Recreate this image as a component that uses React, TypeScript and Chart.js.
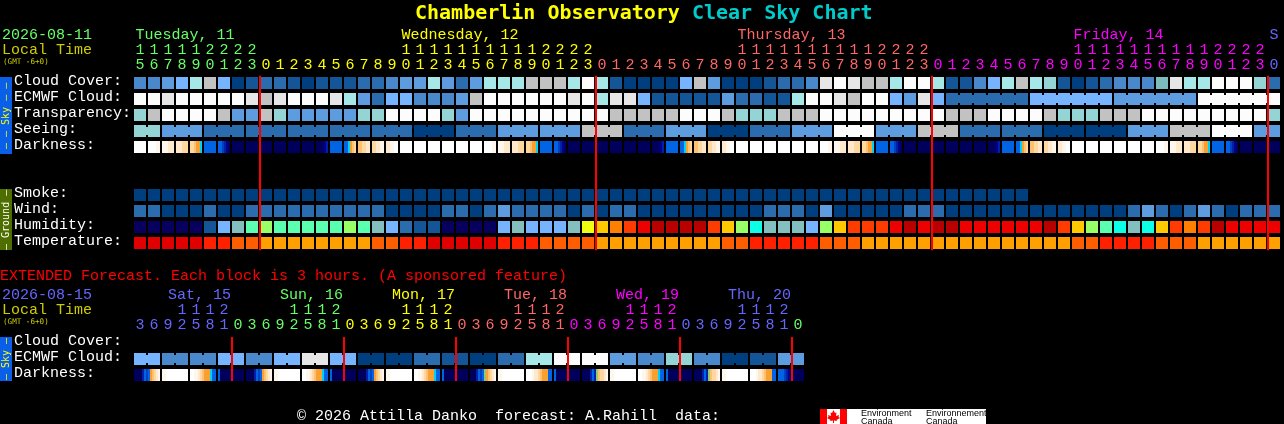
import React, { useEffect, useRef } from "react";
import { Chart, registerables } from "chart.js";

Chart.register(...registerables);

const MONO = '"Liberation Mono", monospace';
const DEJAVU = '"DejaVu Sans Mono", monospace';

// ---------- data: main forecast (one value per hourly column) ----------
const mainHours = [15,16,17,18,19,20,21,22,23,
  0,1,2,3,4,5,6,7,8,9,10,11,12,13,14,15,16,17,18,19,20,21,22,23,
  0,1,2,3,4,5,6,7,8,9,10,11,12,13,14,15,16,17,18,19,20,21,22,23,
  0,1,2,3,4,5,6,7,8,9,10,11,12,13,14,15,16,17,18,19,20,21,22,23,0];
const mainDayColumns = [-0.32, 18.68, 42.68, 66.68, 80.68];
const mainDayNames = ["Tuesday, 11", "Wednesday, 12", "Thursday, 13", "Friday, 14", "S"];
const mainRowNames = ["Cloud Cover:", "ECMWF Cloud:", "Transparency:", "Seeing:", "Darkness:", "", "", "Smoke:", "Wind:", "Humidity:", "Temperature:"];
const mainMidnights = [9, 33, 57, 81];

const cloudCover = [3,3,4,5,6,8,5,0,1,2,2,1,0,1,1,1,2,2,3,4,4,6,4,2,4,6,6,6,8,8,8,6,10,6,1,0,0,0,0,5,8,4,0,0,0,1,2,2,3,9,10,9,8,8,6,10,10,6,1,1,3,5,6,8,6,7,1,0,1,2,3,3,3,11,9,6,6,10,10,10,7,2];
const ecmwfCloud = [10,10,9,10,10,10,10,10,9,8,9,10,10,10,9,6,4,2,5,5,3,3,3,4,8,10,10,10,10,10,10,9,10,6,9,9,5,1,1,1,1,1,4,2,2,1,1,6,10,10,9,8,10,10,5,4,9,5,2,2,2,2,2,2,5,5,5,5,5,5,4,4,4,4,4,4,10,10,10,10,10,10];
const ecmwfMerged = [[58,63],[64,69],[70,75],[76,81]];
const transparency = [7,8,10,10,10,10,8,4,4,8,7,4,4,4,4,4,7,7,10,10,10,10,7,4,10,10,10,10,10,10,10,10,10,10,8,8,8,8,8,10,10,10,8,7,7,7,8,8,8,10,10,10,10,10,10,10,10,10,8,8,8,10,10,10,10,8,7,7,7,8,8,8,10,10,10,10,10,10,10,10,10,7];
const seeing = [7,7,4,4,4,2,2,2,2,2,2,2,2,2,2,2,2,2,2,2,0,0,0,2,2,2,4,4,4,4,4,4,8,8,8,2,2,2,4,4,4,0,0,0,2,2,2,4,4,4,10,10,10,4,4,4,8,8,8,2,2,2,2,2,2,0,0,0,0,0,0,4,4,4,8,8,8,10,10,10,4,4];
const seeingMerged = [[0,1],[2,4],[5,7],[8,10],[11,13],[14,16],[17,19],[20,22],[23,25],[26,28],[29,31],[32,34],[35,37],[38,40],[41,43],[44,46],[47,49],[50,52],[53,55],[56,58],[59,61],[62,64],[65,67],[68,70],[71,73],[74,76],[77,79],[80,81]];
const darkness = [
  "000000","000011","111222","222333","334556","888888","889abc","dddddd","dddddd","dddddd","dddddd","dddddd","dddddd","dddcba","888888","886543","443322","332211","221100","000000","000000","000000","000000","000000",
  "000000","000011","111222","222333","334556","888888","889abc","dddddd","dddddd","dddddd","dddddd","dddddd","dddddd","dddcba","888888","886543","443322","332211","221100","000000","000000","000000","000000","000000",
  "000000","000011","111222","222333","334556","888888","889abc","dddddd","dddddd","dddddd","dddddd","dddddd","dddddd","dddcba","888888","886543","443322","332211","221100","000000","000000","000000","000000","000000",
  "000000","000011","111222","222333","334556","888888","889abc","dddddd","dddddd","dddddd",
];
const smoke = [0,0,0,0,0,0,0,0,0,0,0,0,0,0,0,0,0,0,0,0,0,0,0,0,0,0,0,0,0,0,0,0,0,0,0,0,0,0,0,0,0,0,0,0,0,0,0,0,0,0,0,0,0,0,0,0,0,0,0,0,0,0,0,0];
const wind = [2,2,0,0,0,2,0,0,2,2,2,2,2,2,2,2,2,2,0,0,0,0,2,2,0,2,4,2,2,2,2,0,2,0,2,2,0,0,0,0,0,0,0,0,0,2,2,2,0,4,0,0,0,0,0,2,2,2,0,0,0,0,0,0,0,0,0,0,0,0,0,2,4,2,0,2,4,2,0,2,2,2];
const humidity = [0,0,0,0,0,1,3,4,5,6,5,5,5,5,5,6,5,4,3,2,1,1,0,0,0,0,3,4,3,3,3,4,8,9,10,11,12,13,13,13,13,11,9,6,7,4,4,4,3,6,9,11,11,11,12,13,12,13,13,12,12,12,12,12,12,13,11,9,6,5,7,4,7,9,11,10,11,13,12,12,12,12];
const temperature = [0,0,0,0,0,1,1,2,2,3,3,3,3,3,3,3,3,2,2,1,1,0,0,0,0,0,1,1,1,2,2,2,2,3,3,3,3,3,3,3,3,3,2,2,1,1,1,1,1,2,2,2,3,3,3,3,3,3,3,3,3,3,3,3,3,3,3,2,2,1,1,1,1,2,2,2,3,3,3,3,3,3];

// ---------- data: extended forecast (one value per 3-hour block) ----------
const extHours = [3,6,9,12,15,18,21,
  0,3,6,9,12,15,18,21, 0,3,6,9,12,15,18,21, 0,3,6,9,12,15,18,21,
  0,3,6,9,12,15,18,21, 0,3,6,9,12,15,18,21, 0];
const extDayColumns = [2, 10, 18, 26, 34, 42];
const extDayNames = ["Sat, 15", "Sun, 16", "Mon, 17", "Tue, 18", "Wed, 19", "Thu, 20"];
const extRowNames = ["Cloud Cover:", "ECMWF Cloud:", "Darkness:"];
const extMidnights = [7, 15, 23, 31, 39, 47];
const extCloud = [5,3,3,5,3,5,9,5,0,0,2,1,0,2,6,10,10,4,3,7,3,0,1,4];
const extDarkness = [
  "dddda89854321","1100000000000","0011234555688","8dddddddddddd",
  "dddda89854321","1100000000000","0011234555688","8dddddddddddd",
  "dddda89854321","1100000000000","0011234555688","8dddddddddddd",
  "ddda898g54321","1100000000000","0001223455588","8dddddddddddd",
  "dddda8ag43321","1100000000000","0011234555688","8dddddddddddd",
  "dddda8ag43321","1100000000000","0001223455588","8889abddddddd",
];

// ---------- colour scales ----------
const skyScale = ["#003F7F","#135597","#2A6CAE","#4A88CC","#5E9CE0","#76B4FF","#A6E8E8","#94D4D4","#C2C2C2","#E6E6E6","#FCFCFC","#7BBCBC"];
const humidityScale = ["#08005F","#135597","#2A6CAE","#76B4FF","#84BFBF","#5AFFAF","#99FF66","#0DFFE6","#EEFF11","#FFC800","#FF8000","#FF3C00","#EC0000","#B80000"];
const temperatureScale = ["#E00000","#FF2000","#FF5E00","#FFA000"];
const darkScale: Record<string, string> = {
  "0":"#FFFFFF","1":"#FFF6EC","2":"#FFE8CC","3":"#FFD8A0","4":"#FFC070","5":"#F8A030","6":"#00D0FF","7":"#0078F0","8":"#0064E4",
  "9":"#0040C8",a:"#0020A8",b:"#000088",c:"#000068",d:"#00005C",g:"#90C878",
};
const mainDayColors = ["#66FF66","#FFFF00","#FF6666","#FF00FF","#6666FF"];
const extDayColors = ["#6666FF","#66FF66","#FFFF00","#FF6666","#FF00FF","#6666FF","#66FF66"];

// ---------- dataset builders ----------
const CELL_HALF = 0.375;
const NECK_HALF = 0.25;
const base = { type: "bar", xAxisID: "x", yAxisID: "y", grouped: false, borderWidth: 0, inflateAmount: 0, borderSkipped: false };

function cells(row: number, values: number[], scale: string[]) {
  return {
    ...base,
    barThickness: 12,
    data: values.map((_, i) => ({ x: i, y: [row - CELL_HALF, row + CELL_HALF] })),
    backgroundColor: values.map((v) => scale[v]),
  };
}
function necks(row: number, values: number[], scale: string[], merged: number[][]) {
  const cols: number[] = [];
  merged.forEach(([a, b]) => { for (let c = a; c < b; c++) cols.push(c); });
  return {
    ...base,
    barThickness: 2,
    data: cols.map((c) => ({ x: c + 0.5, y: [row - NECK_HALF, row + NECK_HALF] })),
    backgroundColor: cols.map((c) => scale[values[c]]),
  };
}
function gradientCells(row: number, samples: string[], thickness: number, shift: number, stride: number) {
  return {
    ...base,
    barThickness: thickness,
    data: samples.map((_, i) => ({ x: i * stride + shift, y: [row - CELL_HALF, row + CELL_HALF] })),
    backgroundColor: (ctx: any) => {
      const chart = ctx.chart;
      const raw = ctx.raw;
      if (!raw || !chart.chartArea) return "#000";
      const cx = chart.scales.x.getPixelForValue(raw.x);
      if (!Number.isFinite(cx)) return "#000";
      const g = chart.ctx.createLinearGradient(cx - thickness / 2, 0, cx + thickness / 2, 0);
      const s = samples[ctx.dataIndex];
      for (let k = 0; k < s.length; k++) {
        g.addColorStop(k / s.length, darkScale[s[k]]);
        g.addColorStop((k + 1) / s.length, darkScale[s[k]]);
      }
      return g;
    },
  };
}
function redLines(cols: number[], top: number, bottom: number) {
  return {
    ...base,
    order: -1,
    barThickness: 2,
    data: cols.map((c) => ({ x: c - 3 / 7, y: [top, bottom] })),
    backgroundColor: "#FF0000",
  };
}

// ---------- chart options ----------
function tickParts(h: number): string[] {
  const s = String(h);
  return s.length === 2 ? [s[0], s[1]] : [" ", s];
}
function dayIndexes(hours: number[]) {
  let d = 0;
  return hours.map((h, i) => { if (i > 0 && h === 0) d += 1; return d; });
}
function makeOptions(p: {
  hours: number[]; dayColors: string[]; dayCols: number[]; dayNames: string[]; rowNames: string[];
  padTop: number; padBottom: number; padRight: number; dayColorOf: number[];
}) {
  const font = { family: MONO, size: 15, lineHeight: 1 };
  const n = p.hours.length;
  const dayIdx = dayIndexes(p.hours);
  const noGrid = { display: false, drawTicks: false, tickLength: 0 };
  return {
    responsive: false,
    animation: false,
    devicePixelRatio: 1,
    events: [],
    layout: { padding: { left: 14, right: p.padRight, top: p.padTop, bottom: p.padBottom } },
    plugins: { legend: { display: false }, title: { display: false }, tooltip: { enabled: false } },
    scales: {
      x: {
        type: "linear", position: "top", min: -0.5, max: n - 0.5, weight: 0, offset: false,
        grid: noGrid, border: { display: false },
        afterBuildTicks: (s: any) => { s.ticks = p.hours.map((_, i) => ({ value: i })); },
        afterFit: (s: any) => { s.height = 32; s.paddingLeft = 0; s.paddingRight = 0; },
        ticks: {
          autoSkip: false, maxRotation: 0, minRotation: 0, padding: 2, font,
          callback: (v: number) => tickParts(p.hours[v]),
          color: (c: any) => p.dayColors[dayIdx[c.index] ?? 0],
        },
      },
      x2: {
        type: "linear", position: "top", min: -0.5, max: n - 0.5, weight: 1, offset: false,
        grid: noGrid, border: { display: false },
        afterBuildTicks: (s: any) => { s.ticks = p.dayCols.map((c) => ({ value: c })); },
        afterFit: (s: any) => { s.height = 15; s.paddingLeft = 0; s.paddingRight = 0; },
        ticks: {
          autoSkip: false, maxRotation: 0, minRotation: 0, padding: 0, align: "start", font,
          callback: (_: number, i: number) => p.dayNames[i],
          color: (c: any) => p.dayColors[p.dayColorOf[c.index] ?? 0],
        },
      },
      y: {
        type: "linear", reverse: true, min: -0.5, max: p.rowNames.length - 0.5,
        grid: noGrid, border: { display: false },
        // row labels sit a little above their row's centre
        afterBuildTicks: (s: any) => { s.ticks = p.rowNames.map((_, i) => ({ value: i - 0.125 })); },
        afterFit: (s: any) => { s.width = 119; },
        ticks: {
          autoSkip: false, crossAlign: "far", padding: 2, color: "#FFFFFF", font,
          callback: (v: number) => p.rowNames[Math.round(v + 0.125)],
        },
      },
    },
  };
}

const mainDatasets = () => [
  redLines(mainMidnights, -0.45, 10.45),
  cells(0, cloudCover, skyScale),
  cells(1, ecmwfCloud, skyScale),
  necks(1, ecmwfCloud, skyScale, ecmwfMerged),
  cells(2, transparency, skyScale),
  cells(3, seeing, skyScale),
  necks(3, seeing, skyScale, seeingMerged),
  gradientCells(4, darkness, 12, 0, 1),
  cells(7, smoke, skyScale),
  cells(8, wind, skyScale),
  cells(9, humidity, humidityScale),
  cells(10, temperature, temperatureScale),
];
const extCloudColumns = extCloud.flatMap((v) => [v, v]);
const extCloudMerged = extCloud.map((_, k) => [k * 2, k * 2 + 1]);
const extDatasets = () => [
  redLines(extMidnights, -0.375, 2.375),
  cells(1, extCloudColumns, skyScale),
  necks(1, extCloudColumns, skyScale, extCloudMerged),
  gradientCells(2, extDarkness, 26, 0.5, 2),
];

function Panel(props: { top: number; height: number; datasets: any[]; options: any }) {
  const ref = useRef<HTMLCanvasElement | null>(null);
  useEffect(() => {
    const chart = new Chart(ref.current as HTMLCanvasElement, {
      type: "bar",
      data: { datasets: props.datasets },
      options: props.options,
    } as any);
    return () => chart.destroy();
  }, []);
  return (
    <canvas ref={ref} width={1284} height={props.height}
      style={{ position: "absolute", left: 0, top: props.top, width: 1284, height: props.height, display: "block" }} />
  );
}

function Txt(props: { x: number; y: number; size?: number; color: string; font?: string; children: React.ReactNode }) {
  const size = props.size ?? 15;
  return (
    <div style={{ position: "absolute", left: props.x, top: props.y, fontFamily: props.font ?? MONO, fontSize: size, lineHeight: "16px",
      color: props.color, whiteSpace: "pre" }}>{props.children}</div>
  );
}

function Band(props: { top: number; height: number; bg: string; color: string; text: string }) {
  return (
    <div style={{ position: "absolute", left: 0, top: props.top, width: 12, height: props.height, background: props.bg, color: props.color,
      fontFamily: DEJAVU, fontSize: 10, lineHeight: "12px", writingMode: "vertical-rl", transform: "rotate(180deg)", textAlign: "center", whiteSpace: "pre" }}>
      {props.text}
    </div>
  );
}

export default function App() {
  return (
    <div style={{ position: "fixed", left: 0, top: 0, width: 1284, height: 424, background: "#000", overflow: "hidden" }}>
      <Panel top={0} height={262} datasets={mainDatasets()} options={makeOptions({
        hours: mainHours, dayColors: mainDayColors, dayCols: mainDayColumns, dayNames: mainDayNames, rowNames: mainRowNames,
        padTop: 28, padBottom: 11, padRight: 3, dayColorOf: [0, 1, 2, 3, 4],
      })} />
      <Panel top={262} height={162} datasets={extDatasets()} options={makeOptions({
        hours: extHours, dayColors: extDayColors, dayCols: extDayColumns, dayNames: extDayNames, rowNames: extRowNames,
        padTop: 26, padBottom: 41, padRight: 479, dayColorOf: [0, 1, 2, 3, 4, 5],
      })} />

      <div style={{ position: "absolute", left: 415, top: 0, fontFamily: DEJAVU, fontSize: 20, fontWeight: 700, lineHeight: "24px", whiteSpace: "pre" }}>
        <span style={{ color: "#FFFF00" }}>Chamberlin Observatory</span>
        <span style={{ color: "#00CCCC" }}> Clear Sky Chart</span>
      </div>

      <Txt x={2} y={28} color="#66FF66">2026-08-11</Txt>
      <Txt x={2} y={43} color="#CCCC00">Local Time</Txt>
      <Txt x={3} y={54} size={7.6} font={DEJAVU} color="#CCCC00">(GMT -6+0)</Txt>
      <Band top={77} height={77} bg="#0A5FE8" color="#FFFF00" text="– – Sky – –" />
      <Band top={189} height={61} bg="#4E6E00" color="#FFFFFF" text="– Ground –" />

      <Txt x={0} y={269} color="#FF0000">EXTENDED Forecast. Each block is 3 hours. (A sponsored feature)</Txt>
      <Txt x={2} y={288} color="#6666FF">2026-08-15</Txt>
      <Txt x={2} y={303} color="#CCCC00">Local Time</Txt>
      <Txt x={3} y={314} size={7.6} font={DEJAVU} color="#CCCC00">(GMT -6+0)</Txt>
      <Band top={337} height={44} bg="#0A5FE8" color="#FFFF00" text="– Sky –" />

      <Txt x={297} y={409} color="#FFFFFF">© 2026 Attilla Danko  forecast: A.Rahill  data:</Txt>

      <div style={{ position: "absolute", left: 820, top: 409, width: 166, height: 15, background: "#FFF", color: "#000",
        fontFamily: '"Liberation Sans", sans-serif', fontSize: 9, lineHeight: "8px" }}>
        <div style={{ position: "absolute", left: 0, top: 0, width: 7, height: 15, background: "#F00" }} />
        <div style={{ position: "absolute", left: 20, top: 0, width: 7, height: 15, background: "#F00" }} />
        <svg width="13" height="13" viewBox="0 0 13 13" style={{ position: "absolute", left: 7, top: 1 }}>
          <path d="M6.5 0 L8 3 L9.5 2.5 L9 6 L12 5 L11.5 7 L13 8 L9.5 10 L10 11 L7 10.5 L7 13 L6 13 L6 10.5 L3 11 L3.5 10 L0 8 L1.5 7 L1 5 L4 6 L3.5 2.5 L5 3 Z" fill="#F00" />
        </svg>
        <div style={{ position: "absolute", left: 41, top: 0 }}>Environment<br />Canada</div>
        <div style={{ position: "absolute", left: 106, top: 0 }}>Environnement<br />Canada</div>
      </div>
    </div>
  );
}
